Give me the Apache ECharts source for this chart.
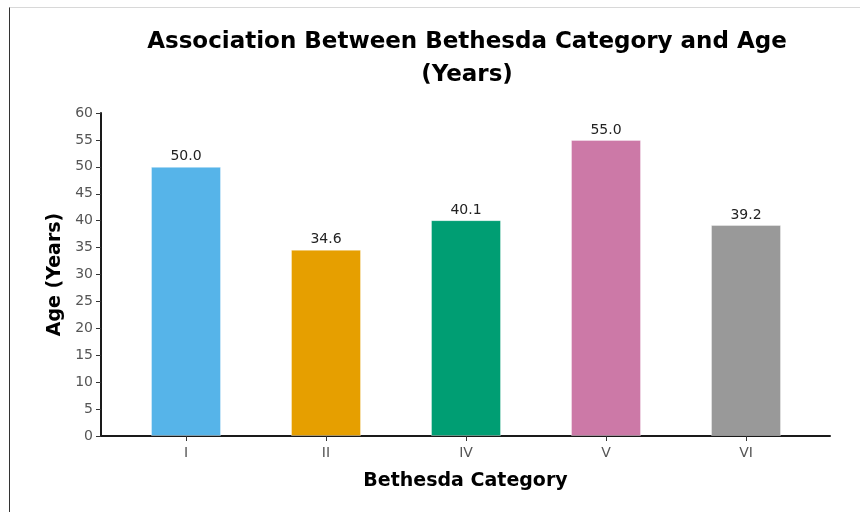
<!DOCTYPE html>
<html>
<head>
<meta charset="utf-8">
<script src="https://cdn.jsdelivr.net/npm/echarts@6/dist/echarts.min.js"></script>
<style>
html,body{margin:0;padding:0;background:#fff;}
#frame{position:absolute;left:9px;top:7px;width:851px;height:505px;border-left:1px solid #333;border-top:1px solid #d8d8d8;box-sizing:border-box;}
#chart{position:absolute;left:0;top:0;width:860px;height:512px;}
</style>
</head>
<body>
<div id="frame"></div>
<div id="chart"></div>
<script>
const categories = ['I', 'II', 'IV', 'V', 'VI'];
const ageValues = [50.0, 34.6, 40.1, 55.0, 39.2];
const barColors = ['#56B4E9', '#E69F00', '#009E73', '#CC79A7', '#999999'];
const yTicks = [0, 5, 10, 15, 20, 25, 30, 35, 40, 45, 50, 55, 60];

const FONT = 'DejaVu Sans';
const chart = echarts.init(document.getElementById('chart'), null, {renderer: 'canvas'});

const option = {
  animation: false,
  textStyle: {fontFamily: FONT},
  title: {
    text: 'Association Between Bethesda Category and Age\n(Years)',
    left: 462,
    top: 21,
    textAlign: 'center',
    textStyle: {fontFamily: FONT, fontWeight: 'bold', fontSize: 23, lineHeight: 33, color: '#000'}
  },
  grid: [
    {left: 101, right: 30, top: 113, bottom: 76},
    {left: 116, right: 44, top: 113, bottom: 76}
  ],
  xAxis: [
    {
      gridIndex: 0, type: 'value', min: 0, max: 1,
      axisLine: {show: true, lineStyle: {color: '#1a1a1a', width: 2}},
      axisTick: {show: false}, axisLabel: {show: false}, splitLine: {show: false},
      name: 'Bethesda Category', nameLocation: 'middle', nameGap: 36,
      nameTextStyle: {fontFamily: FONT, fontWeight: 'bold', fontSize: 19, color: '#000'}
    },
    {
      gridIndex: 1, type: 'category', data: categories,
      axisLine: {show: false},
      axisTick: {show: true, alignWithLabel: true, length: 5, lineStyle: {color: '#333', width: 1}},
      axisLabel: {margin: 10, fontFamily: FONT, fontSize: 14, color: '#555'},
      splitLine: {show: false}
    }
  ],
  yAxis: [
    {
      gridIndex: 0, type: 'value', min: 0, max: 60, interval: 5,
      axisLine: {show: true, lineStyle: {color: '#1a1a1a', width: 2}},
      axisTick: {show: true, length: 5, lineStyle: {color: '#333', width: 1}},
      axisLabel: {margin: 8, fontFamily: FONT, fontSize: 14, color: '#555',
        formatter: v => yTicks.includes(v) ? String(v) : ''},
      splitLine: {show: false},
      name: 'Age (Years)', nameLocation: 'middle', nameGap: 36,
      nameTextStyle: {fontFamily: FONT, fontWeight: 'bold', fontSize: 19, color: '#000'}
    },
    {
      gridIndex: 1, type: 'value', min: 0, max: 60, show: false
    }
  ],
  series: [{
    type: 'bar',
    xAxisIndex: 1, yAxisIndex: 1,
    barWidth: 70,
    data: ageValues.map((v, i) => ({value: v, itemStyle: {color: barColors[i], borderColor: 'rgba(255,255,255,0.35)', borderWidth: 1}})),
    label: {
      show: true, position: 'top', distance: 3,
      fontFamily: FONT, fontSize: 14, color: '#222',
      formatter: p => p.value.toFixed(1)
    }
  }]
};
chart.setOption(option);
</script>
</body>
</html>
